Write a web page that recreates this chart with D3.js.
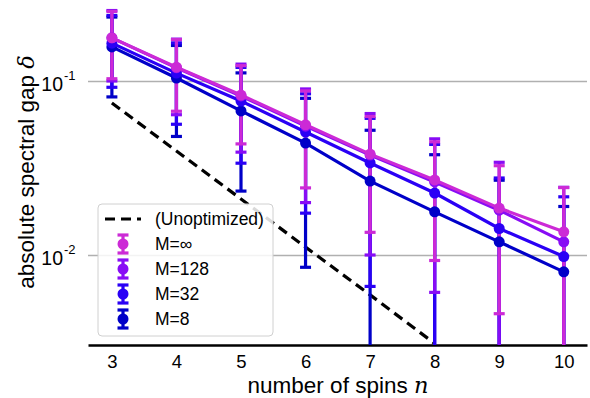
<!DOCTYPE html>
<html>
<head>
<meta charset="utf-8">
<script src="https://cdn.jsdelivr.net/npm/d3@7"></script>
<style>
  body { margin: 0; background: #fff; }
  svg { font-family: "Liberation Sans", Arial, sans-serif; }
</style>
</head>
<body>
<div id="container"></div>
<script>
// number of spins
const nSpins = [3, 4, 5, 6, 7, 8, 9, 10];

// mean gap and std for each M
const gapInf = [0.177, 0.120, 0.083, 0.056, 0.038, 0.027, 0.0186, 0.0136];
const errInf = [0.074, 0.053, 0.0395, 0.0317, 0.0245, 0.0177, 0.014, 0.0108];
const gap128 = [0.177, 0.119, 0.082, 0.055, 0.0375, 0.0263, 0.0181, 0.0119];
const err128 = [0.077, 0.055, 0.043, 0.035, 0.0275, 0.0202, 0.016, 0.0126];
const gap32 = [0.165, 0.111, 0.0767, 0.0509, 0.0338, 0.0227, 0.0142, 0.0098];
const err32 = [0.073, 0.0546, 0.043, 0.0335, 0.0272, 0.0205, 0.0135, 0.0118];
const gap8 = [0.157, 0.104, 0.0673, 0.044, 0.0266, 0.0177, 0.0119, 0.0080];
const err8 = [0.076, 0.056, 0.044, 0.0355, 0.0255, 0.02, 0.015, 0.011];

// unoptimized reference
const unoptN = [3, 4, 5, 6, 7, 8];
const unoptGap = [0.0747, 0.0396, 0.0210, 0.0111, 0.0059, 0.0031];

const yTicks = [0.1, 0.01];
const yTickExp = ['-1', '-2'];

const width = 590;
const height = 398;
const plotLeft = 88;
const plotRight = 587;
const plotTop = 0;
const plotBottom = 345;

// drawn in this order, legend reversed
const series = [
  { label: 'M=8', gap: gap8, err: err8, color: '#0000c8' },
  { label: 'M=32', gap: gap32, err: err32, color: '#2a00f5' },
  { label: 'M=128', gap: gap128, err: err128, color: '#880cf5' },
  { label: 'M=\u221e', gap: gapInf, err: errInf, color: '#cc2ad6' }
];

const svg = d3.select('#container')
              .append('svg')
              .attr('width', width)
              .attr('height', height);

const x = d3.scaleLinear()
            .domain([2.63, 10.36])
            .range([plotLeft, plotRight]);
const y = d3.scaleLog()
            .domain([0.00304, 0.292])
            .range([plotBottom, plotTop]);

svg.append('clipPath')
   .attr('id', 'plot-clip')
   .append('rect')
   .attr('x', plotLeft)
   .attr('y', plotTop)
   .attr('width', plotRight - plotLeft)
   .attr('height', plotBottom - plotTop);

// Y grid
svg.append('g')
   .attr('transform', `translate(${plotLeft}, 0)`)
   .call(d3.axisLeft(y)
           .tickValues(yTicks)
           .tickSize(-(plotRight - plotLeft))
           .tickFormat(() => ''))
   .call((g) => g.select('.domain').remove())
   .call((g) => g.selectAll('line').attr('stroke', '#b0b0b0').attr('stroke-width', 1.5));

// Y tick labels 10^k
const yLab = svg.append('g');
yTicks.forEach((t, i) => {
  yLab.append('text')
      .attr('x', 63)
      .attr('y', y(t) + 10)
      .attr('text-anchor', 'end')
      .attr('font-size', 19.5)
      .text('10');
  yLab.append('text')
      .attr('x', 64)
      .attr('y', y(t) - 1)
      .attr('font-size', 13)
      .text(yTickExp[i]);
});

// X axis
svg.append('g')
   .attr('transform', `translate(0, ${plotBottom})`)
   .call(d3.axisBottom(x)
           .tickValues(nSpins)
           .tickSize(0)
           .tickPadding(10)
           .tickFormat(d3.format('d')))
   .call((g) => g.select('.domain').attr('stroke', '#000').attr('stroke-width', 2.5))
   .call((g) => g.selectAll('text').attr('font-size', 18.5).attr('fill', '#000')
                 .attr('font-family', '"Liberation Sans", Arial, sans-serif'));

const chart = svg.append('g').attr('clip-path', 'url(#plot-clip)');

// dashed unoptimized line
const unoptLine = d3.line()
                    .x((d, i) => x(unoptN[i]))
                    .y((d) => y(d));
chart.append('path')
     .attr('d', unoptLine(unoptGap))
     .attr('fill', 'none')
     .attr('stroke', '#000')
     .attr('stroke-width', 3.2)
     .attr('stroke-dasharray', '10,6');

// error bars first (below all data lines)
const capW = 5.5;
series.forEach((s) => {
  const g = chart.append('g').attr('stroke', s.color).attr('stroke-width', 3.2);
  nSpins.forEach((n, i) => {
    const hi = s.gap[i] + s.err[i];
    const lo = s.gap[i] - s.err[i];
    const yHi = y(hi);
    const lowVisible = lo > y.domain()[0];
    const yLo = lowVisible ? y(lo) : plotBottom + 5;
    g.append('line')
     .attr('x1', x(n)).attr('x2', x(n))
     .attr('y1', yHi).attr('y2', yLo);
    g.append('line')
     .attr('x1', x(n) - capW).attr('x2', x(n) + capW)
     .attr('y1', yHi).attr('y2', yHi);
    if (lowVisible) {
      g.append('line')
       .attr('x1', x(n) - capW).attr('x2', x(n) + capW)
       .attr('y1', yLo).attr('y2', yLo);
    }
  });
});

// data lines and markers
const valueline = d3.line()
                    .x((d, i) => x(nSpins[i]))
                    .y((d) => y(d));
series.forEach((s) => {
  chart.append('path')
       .attr('d', valueline(s.gap))
       .attr('fill', 'none')
       .attr('stroke', s.color)
       .attr('stroke-width', 3.2);
  chart.selectAll(null)
       .data(s.gap)
       .enter()
       .append('circle')
       .attr('cx', (d, i) => x(nSpins[i]))
       .attr('cy', (d) => y(d))
       .attr('r', 5.5)
       .attr('fill', s.color);
});

// Legend
const legend = svg.append('g');
legend.append('rect')
      .attr('x', 98).attr('y', 204)
      .attr('width', 175).attr('height', 132)
      .attr('rx', 4)
      .attr('fill', '#fff').attr('fill-opacity', 0.85)
      .attr('stroke', '#d0d0d0').attr('stroke-width', 1);

const rowY = (i) => 219 + i * 25;
legend.append('line')
      .attr('x1', 105).attr('x2', 141)
      .attr('y1', rowY(0)).attr('y2', rowY(0))
      .attr('stroke', '#000').attr('stroke-width', 3.2)
      .attr('stroke-dasharray', '10,6');
legend.append('text')
      .attr('x', 155).attr('y', rowY(0) + 6)
      .attr('font-size', 17.5)
      .text('(Unoptimized)');

series.slice().reverse().forEach((s, k) => {
  const cy = rowY(k + 1);
  const cx = 123;
  const g = legend.append('g').attr('stroke', s.color).attr('stroke-width', 3.2);
  g.append('line').attr('x1', cx).attr('x2', cx).attr('y1', cy - 9).attr('y2', cy + 9);
  g.append('line').attr('x1', cx - capW).attr('x2', cx + capW).attr('y1', cy - 9).attr('y2', cy - 9);
  g.append('line').attr('x1', cx - capW).attr('x2', cx + capW).attr('y1', cy + 9).attr('y2', cy + 9);
  legend.append('circle').attr('cx', cx).attr('cy', cy).attr('r', 5.5).attr('fill', s.color);
  legend.append('text')
        .attr('x', 155).attr('y', cy + 6)
        .attr('font-size', 17.5)
        .text(s.label);
});

// Axis titles
const xTitle = svg.append('text')
                  .attr('x', 338).attr('y', 393)
                  .attr('text-anchor', 'middle')
                  .attr('font-size', 22.5);
xTitle.append('tspan').text('number of spins ');
xTitle.append('tspan')
      .attr('font-family', '"DejaVu Serif", "Liberation Serif", serif')
      .attr('font-style', 'italic')
      .text('n');

const yTitle = svg.append('text')
                  .attr('transform', `translate(34, 172) rotate(-90)`)
                  .attr('text-anchor', 'middle')
                  .attr('font-size', 22.5);
yTitle.append('tspan').text('absolute spectral gap ');
yTitle.append('tspan')
      .attr('font-family', '"DejaVu Serif", "Liberation Serif", serif')
      .attr('font-style', 'italic')
      .text('\u03b4');
</script>
</body>
</html>
